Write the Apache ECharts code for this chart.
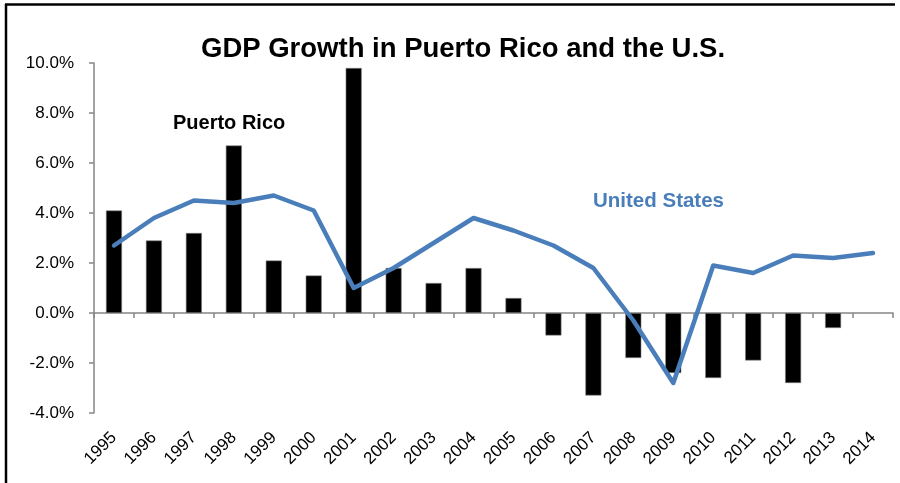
<!DOCTYPE html>
<html>
<head>
<meta charset="utf-8">
<script src="https://cdn.jsdelivr.net/npm/echarts@6/dist/echarts.min.js"></script>
<style>
  html, body { margin: 0; padding: 0; background: #fff; }
  #chart { width: 900px; height: 483px; }
</style>
</head>
<body>
<div id="chart"></div>
<script>
// Annual real GDP growth, percent
const years = ['1995','1996','1997','1998','1999','2000','2001','2002','2003','2004',
               '2005','2006','2007','2008','2009','2010','2011','2012','2013','2014'];
const puertoRico = [4.1, 2.9, 3.2, 6.7, 2.1, 1.5, 9.8, 1.8, 1.2, 1.8,
                    0.6, -0.9, -3.3, -1.8, -2.4, -2.6, -1.9, -2.8, -0.6, null];
const unitedStates = [2.7, 3.8, 4.5, 4.4, 4.7, 4.1, 1.0, 1.8, 2.8, 3.8,
                      3.3, 2.7, 1.8, -0.3, -2.8, 1.9, 1.6, 2.3, 2.2, 2.4];
const yTicks = { min: -4, max: 10, step: 2 };

const FONT = 'Liberation Sans';
const AXIS_GRAY = '#868686';
const US_BLUE = '#4A7EBB';

const chart = echarts.init(document.getElementById('chart'), null, { renderer: 'canvas' });

chart.setOption({
  animation: false,
  backgroundColor: '#ffffff',
  title: {
    text: 'GDP Growth in Puerto Rico and the U.S.',
    left: 196,
    top: 30,
    textStyle: { fontFamily: FONT, fontWeight: 'bold', fontSize: 27.5, color: '#000' }
  },
  grid: { left: 94, right: 7, top: 63, bottom: 70, containLabel: false },
  xAxis: [
    {
      type: 'category',
      data: years,
      boundaryGap: true,
      axisLine: { onZero: true, lineStyle: { color: AXIS_GRAY, width: 1.5 } },
      axisTick: { show: true, length: 5, alignWithLabel: false, lineStyle: { color: AXIS_GRAY, width: 1.5 } },
      axisLabel: { show: false },
      splitLine: { show: false }
    },
    {
      type: 'category',
      data: years,
      position: 'bottom',
      boundaryGap: true,
      axisLine: { show: false, onZero: false },
      axisTick: { show: false },
      axisLabel: {
        show: true, rotate: 45, margin: 22, interval: 0,
        fontFamily: FONT, fontSize: 17, color: '#000'
      },
      splitLine: { show: false }
    }
  ],
  yAxis: {
    type: 'value',
    min: yTicks.min,
    max: yTicks.max,
    interval: yTicks.step,
    axisLine: { show: true, lineStyle: { color: AXIS_GRAY, width: 1.5 } },
    axisTick: { show: true, length: 5, lineStyle: { color: AXIS_GRAY, width: 1.5 } },
    axisLabel: {
      margin: 20,
      fontFamily: FONT, fontSize: 17, color: '#000',
      formatter: v => v.toFixed(1) + '%'
    },
    splitLine: { show: false }
  },
  series: [
    {
      name: 'Puerto Rico',
      type: 'bar',
      xAxisIndex: 0,
      data: puertoRico,
      barWidth: 16,
      itemStyle: { color: '#000', borderColor: '#7f7f7f', borderWidth: 0.6 },
      z: 2
    },
    {
      name: 'United States',
      type: 'line',
      xAxisIndex: 0,
      data: unitedStates,
      showSymbol: false,
      symbol: 'none',
      lineStyle: { color: US_BLUE, width: 4.5, cap: 'round', join: 'round' },
      z: 3
    }
  ],
  graphic: [
    // Frame: top and left edges
    { type: 'line', shape: { x1: 5, y1: 4.5, x2: 895, y2: 4.5 }, style: { stroke: '#000', lineWidth: 2.5 } },
    { type: 'line', shape: { x1: 6, y1: 4, x2: 6, y2: 483 }, style: { stroke: '#000', lineWidth: 2.5 } },
    // Series annotations
    {
      type: 'text', left: 173, top: 113,
      style: { text: 'Puerto Rico', fontFamily: FONT, fontWeight: 'bold', fontSize: 20, fill: '#000' }
    },
    {
      type: 'text', left: 593, top: 191,
      style: { text: 'United States', fontFamily: FONT, fontWeight: 'bold', fontSize: 20.5, fill: US_BLUE }
    }
  ]
});
</script>
</body>
</html>
